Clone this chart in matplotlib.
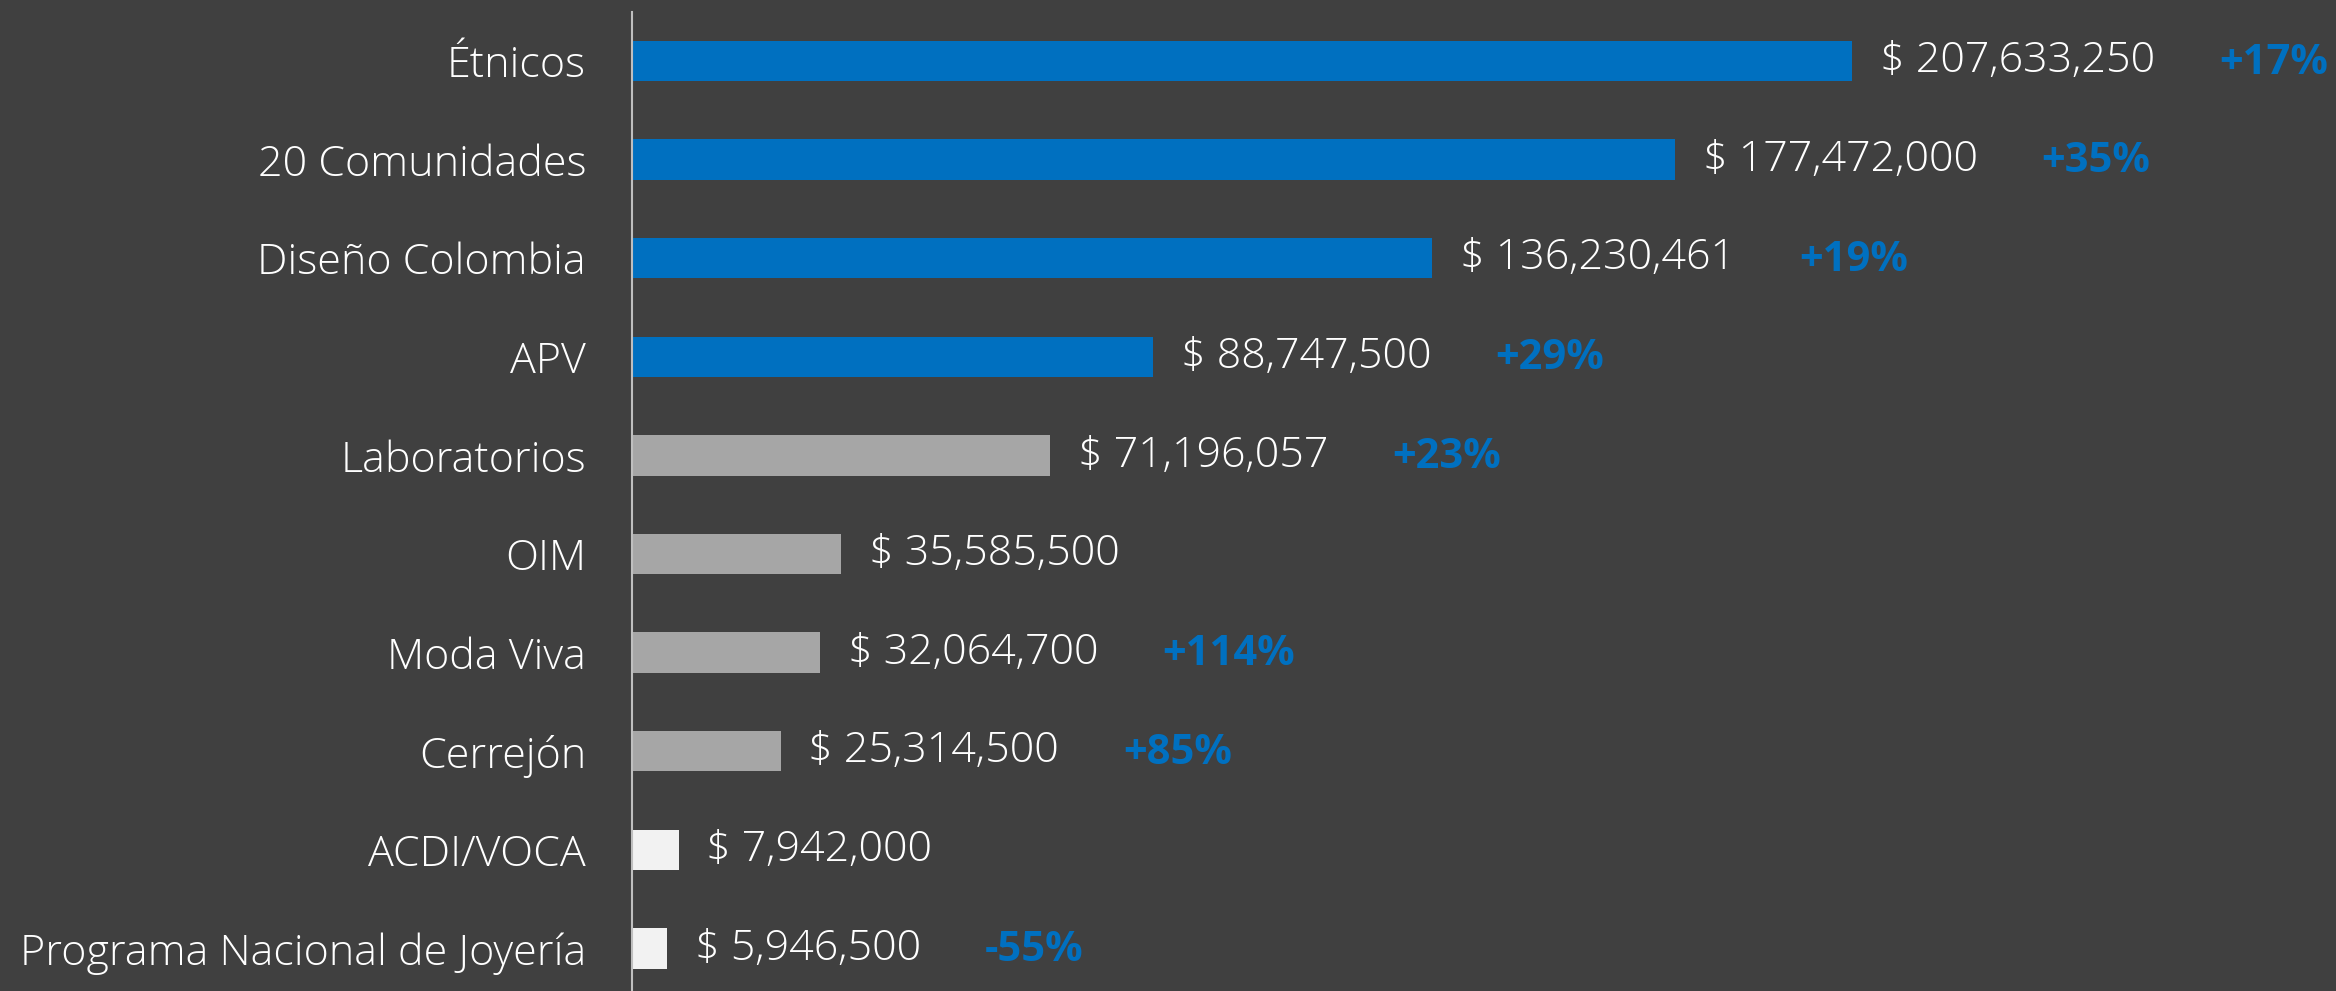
import matplotlib
matplotlib.use("Agg")
import matplotlib.pyplot as plt

# Data
categories = ["Étnicos", "20 Comunidades", "Diseño Colombia", "APV", "Laboratorios",
              "OIM", "Moda Viva", "Cerrejón", "ACDI/VOCA", "Programa Nacional de Joyería"]
values = [207633250, 177472000, 136230461, 88747500, 71196057,
          35585500, 32064700, 25314500, 7942000, 5946500]
changes = ["+17%", "+35%", "+19%", "+29%", "+23%", "", "+114%", "+85%", "", "-55%"]
groups = ["blue"] * 4 + ["gray"] * 4 + ["light"] * 2

bg = "#404040"
palette = {"blue": "#0070C0", "gray": "#A6A6A6", "light": "#F2F2F2"}
font = "Open Sans"

fig = plt.figure(figsize=(23.36, 9.91), dpi=100, facecolor=bg)
ax = fig.add_axes([0.2705, -0.0068, 0.7295, 0.995])
ax.set_facecolor(bg)

y = list(range(len(categories)))
ax.barh(y, values, height=0.41, color=[palette[g] for g in groups])
ax.set_ylim(9.5, -0.5)
ax.set_xlim(0, 290e6)

# axes styling
for side in ["top", "right", "bottom"]:
    ax.spines[side].set_visible(False)
ax.spines["left"].set_color("#BFBFBF")
ax.spines["left"].set_linewidth(1.5)
ax.set_xticks([])
ax.set_yticks(y)
ax.set_yticklabels(categories, fontsize=31, color="white", family=font, fontweight="light")
ax.tick_params(axis="y", length=0, pad=33)

# value labels and percentage changes
for i, (v, c) in enumerate(zip(values, changes)):
    txt = ax.annotate("$ {:,}".format(v), xy=(v, i), xytext=(20, 0), textcoords="offset points",
                      va="center", ha="left", fontsize=31, color="white",
                      family=font, fontweight="light")
    if c:
        ax.annotate(c, xy=(1, 0.45), xycoords=txt, xytext=(46, 0), textcoords="offset points",
                    va="center", ha="left", fontsize=30, color="#0070C0",
                    family=font, fontweight="bold")

fig.savefig("out.png", dpi=100, facecolor=bg)
